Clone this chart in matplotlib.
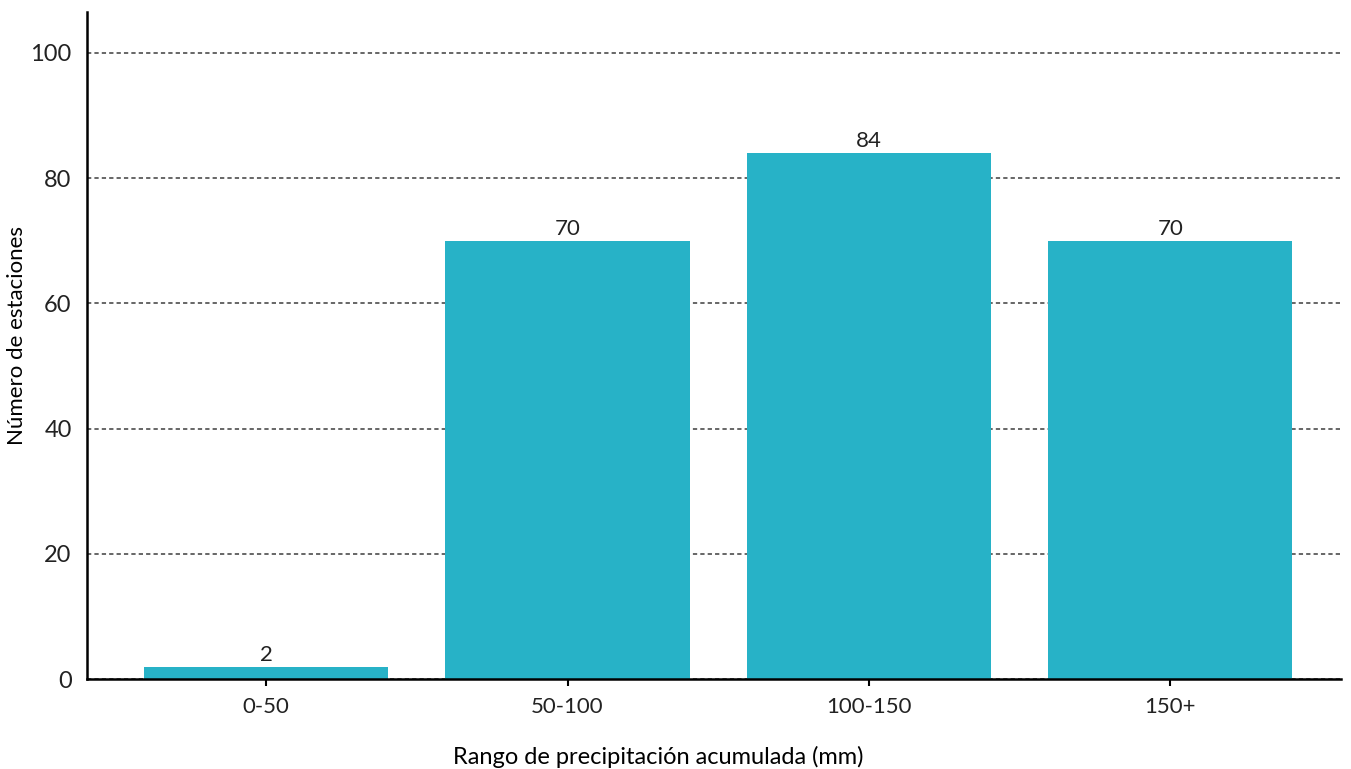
import matplotlib.pyplot as plt

# Stations per accumulated-precipitation range
categories = ['0-50', '50-100', '100-150', '150+']
stations = [2, 70, 84, 70]
y_ticks = [0, 20, 40, 60, 80, 100]

plt.rcParams['font.family'] = ['Lato', 'DejaVu Sans']

fig = plt.figure(figsize=(13.51, 7.69), dpi=100)
ax = fig.add_axes([0.0644, 0.117, 0.9282, 0.867])

x = range(len(categories))
bars = ax.bar(x, stations, width=0.81, color='#27b2c7', zorder=2)
for b, v in zip(bars, stations):
    ax.text(b.get_x() + b.get_width() / 2, v + 0.3, str(v),
            ha='center', va='bottom', fontsize=16, color='#222222')

ax.set_xticks(list(x))
ax.set_xticklabels(categories, fontsize=16, color='#222222')
ax.set_yticks(y_ticks)
ax.set_yticklabels([str(t) for t in y_ticks], fontsize=17, color='#222222')
ax.set_xlim(-0.594, 3.566)
ax.set_ylim(0, 106.5)

ax.yaxis.grid(True, linestyle=(0, (2.2, 1.6)), color='#666666', linewidth=1.4, zorder=0)
ax.set_axisbelow(True)
ax.tick_params(axis='y', length=0, pad=11)
ax.tick_params(axis='x', length=5, width=1.5, pad=8)

for s in ['top', 'right']:
    ax.spines[s].set_visible(False)
for s in ['left', 'bottom']:
    ax.spines[s].set_linewidth(1.8)
    ax.spines[s].set_color('black')

fig.text(17 / 1351, 1 - 335 / 769, 'Número de estaciones', rotation=90,
         ha='center', va='center', fontsize=16)
fig.text(658 / 1351, 1 - 757 / 769, 'Rango de precipitación acumulada (mm)',
         ha='center', va='center', fontsize=17)

fig.savefig('out.png', dpi=100)
